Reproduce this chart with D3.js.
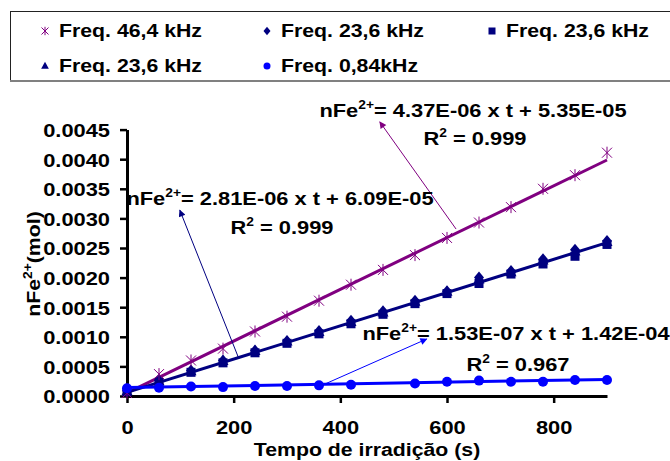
<!DOCTYPE html>
<html>
<head>
<meta charset="utf-8">
<script src="https://cdn.jsdelivr.net/npm/d3@7"></script>
<style>
  body { margin: 0; background: #fff; }
  text { font-family: Arial, "Liberation Sans", sans-serif; font-weight: bold; fill: #000; }
</style>
</head>
<body>
<div id="chart"></div>
<script>
// data
const times = [0, 60, 120, 180, 240, 300, 360, 420, 480, 540, 600, 660, 720, 780, 840, 900];
const freq464 = [0.00005, 0.00037, 0.00060, 0.00080, 0.00109, 0.00134, 0.00161, 0.00188, 0.00213, 0.00238, 0.00267, 0.00293, 0.00319, 0.00350, 0.00373, 0.00411];
const freq236Diamond = [0.00009, 0.00026, 0.00043, 0.00060, 0.00077, 0.00093, 0.00110, 0.00127, 0.00143, 0.00161, 0.00177, 0.00200, 0.00211, 0.00231, 0.00247, 0.00262];
const freq236Square = [0.00007, 0.00023, 0.00040, 0.00056, 0.00073, 0.00089, 0.00105, 0.00122, 0.00138, 0.00156, 0.00173, 0.00190, 0.00206, 0.00223, 0.00236, 0.00256];
const freq236Triangle = [0.00008, 0.00025, 0.00042, 0.00059, 0.00076, 0.00092, 0.00108, 0.00125, 0.00141, 0.00159, 0.00176, 0.00197, 0.00209, 0.00229, 0.00244, 0.00260];
const times084 = [0, 60, 120, 180, 240, 300, 360, 420, 540, 600, 660, 720, 780, 840, 900];
const freq084 = [0.00013, 0.00014, 0.00016, 0.00015, 0.00017, 0.00017, 0.00018, 0.00019, 0.00021, 0.00024, 0.00026, 0.00024, 0.00024, 0.00027, 0.00027];

const legendLabels = ['Freq. 46,4 kHz', 'Freq. 23,6 kHz', 'Freq. 23,6 kHz', 'Freq. 23,6 kHz', 'Freq. 0,84kHz'];

// linear fits shown on the chart
const slopes = [4.37e-6, 2.81e-6, 1.53e-7];
const intercepts = [5.35e-5, 6.09e-5, 1.42e-4];
const eqLabels = ['= 4.37E-06 x t + 5.35E-05', '= 2.81E-06 x t + 6.09E-05', '= 1.53E-07 x t + 1.42E-04'];
const r2Labels = ['0.999', '0.999', '0.967'];

const xTicks = [0, 200, 400, 600, 800];
const yTicks = [0, 0.0005, 0.0010, 0.0015, 0.0020, 0.0025, 0.0030, 0.0035, 0.0040, 0.0045];

// ---- drawing ----
const W = 670, H = 461;
const SX = 1.15; // text in the picture is a bit wide
const purple = '#800080', navy = '#000080', blue = '#0000ff';

const svg = d3.select('#chart').append('svg')
  .attr('width', W).attr('height', H);

const x = d3.scaleLinear().domain([0, 900]).range([127, 607]);
const y = d3.scaleLinear().domain([0, 0.0045]).range([396, 129.6]);

function place(sel, px, py) {
  return sel.attr('transform', `translate(${px},${py}) scale(${SX},1)`);
}

// arrow heads
const defs = svg.append('defs');
[['arr-purple', purple], ['arr-navy', navy], ['arr-blue', blue]].forEach(([id, c]) => {
  defs.append('marker')
    .attr('id', id)
    .attr('viewBox', '0 0 10 10')
    .attr('refX', 9).attr('refY', 5)
    .attr('markerWidth', 9).attr('markerHeight', 7)
    .attr('markerUnits', 'userSpaceOnUse')
    .attr('orient', 'auto')
    .append('path').attr('d', 'M0,0L10,5L0,10z').attr('fill', c);
});

// legend
const legend = svg.append('g');
legend.append('rect')
  .attr('x', 10.5).attr('y', 11.5).attr('width', 680).attr('height', 69)
  .attr('fill', 'none').attr('stroke', '#222').attr('stroke-width', 1);
legend.append('line')
  .attr('x1', 10).attr('x2', 670).attr('y1', 81).attr('y2', 81)
  .attr('stroke', '#808080').attr('stroke-width', 2);

// marker shapes
function asterisk(r) {
  return `M${-r},${-r}L${r},${r}M${-r},${r}L${r},${-r}M0,${-r * 1.2}L0,${r * 1.2}`;
}
const shapes = [
  { kind: 'star', color: purple },
  { kind: 'diamond', color: navy },
  { kind: 'square', color: navy },
  { kind: 'triangle', color: navy },
  { kind: 'circle', color: blue }
];
function drawMarker(g, kind, color, cx, cy, s) {
  if (kind === 'star') {
    g.append('path').attr('d', asterisk(s)).attr('transform', `translate(${cx},${cy})`)
      .attr('stroke', color).attr('stroke-width', 1).attr('fill', 'none');
  } else if (kind === 'circle') {
    g.append('circle').attr('cx', cx).attr('cy', cy).attr('r', s).attr('fill', color);
  } else if (kind === 'square') {
    g.append('rect').attr('x', cx - s).attr('y', cy - s).attr('width', 2 * s).attr('height', 2 * s).attr('fill', color);
  } else if (kind === 'diamond') {
    g.append('path').attr('d', `M0,${-s * 1.2}L${s},0L0,${s * 1.2}L${-s},0Z`)
      .attr('transform', `translate(${cx},${cy})`).attr('fill', color);
  } else {
    g.append('path').attr('d', `M0,${-s * 1.2}L${s * 1.1},${s * 0.8}L${-s * 1.1},${s * 0.8}Z`)
      .attr('transform', `translate(${cx},${cy})`).attr('fill', color);
  }
}

const legendPos = [[45, 37], [267, 37], [492, 37], [45, 72], [267, 72]];
legendLabels.forEach((lab, i) => {
  const [lx, ly] = legendPos[i];
  const sh = shapes[i];
  drawMarker(legend, sh.kind, sh.color, lx, ly - 6, 3.5);
  place(legend.append('text'), lx + 14, ly)
    .attr('font-size', 18.5).text(lab);
});

// axes
const xAxis = svg.append('g')
  .attr('transform', 'translate(0,396)')
  .call(d3.axisBottom(x).tickValues(xTicks).tickSize(7).tickSizeOuter(0));
xAxis.select('.domain').attr('stroke-width', 3).attr('stroke', '#000');
xAxis.selectAll('.tick line').attr('stroke-width', 2.5).attr('stroke', '#000');
xAxis.selectAll('.tick text')
  .attr('y', 38.5).attr('dy', null).attr('x', 0)
  .attr('font-size', 19).attr('fill', '#000')
  .attr('font-family', 'Arial, "Liberation Sans", sans-serif').attr('font-weight', 'bold')
  .attr('transform', `scale(${SX},1)`);

const yAxis = svg.append('g')
  .attr('transform', 'translate(127,0)')
  .call(d3.axisLeft(y).tickValues(yTicks).tickSize(7).tickSizeOuter(0).tickFormat(d3.format('.4f')));
yAxis.select('.domain').attr('stroke-width', 3).attr('stroke', '#000');
yAxis.selectAll('.tick line').attr('stroke-width', 2.5).attr('stroke', '#000');
yAxis.selectAll('.tick text')
  .attr('x', -17 / SX).attr('dy', '0.36em')
  .attr('font-size', 19).attr('fill', '#000')
  .attr('font-family', 'Arial, "Liberation Sans", sans-serif').attr('font-weight', 'bold')
  .attr('transform', `scale(${SX},1)`);

// axis titles
place(svg.append('text'), 367, 455.5)
  .attr('text-anchor', 'middle').attr('font-size', 18.5)
  .text('Tempo de irradição (s)');

const yTitle = svg.append('text')
  .attr('transform', `translate(40,264) rotate(-90) scale(${SX},1)`)
  .attr('text-anchor', 'middle').attr('font-size', 18.5);
yTitle.append('tspan').text('nFe');
yTitle.append('tspan').attr('font-size', 12).attr('dy', -8).text('2+');
yTitle.append('tspan').attr('dy', 8).text('(mol)');

// trend lines
const plot = svg.append('g');
const fitColors = [purple, navy, blue];
const line = d3.line().x(d => x(d[0])).y(d => y(d[1]));
slopes.forEach((m, i) => {
  const ends = [0, 900].map(t => [t, m * t + intercepts[i]]);
  plot.append('path').datum(ends).attr('d', line)
    .attr('stroke', fitColors[i]).attr('stroke-width', 3).attr('fill', 'none');
});

// points
const seriesList = [
  { t: times, v: freq236Square, sh: shapes[2], s: 4.5 },
  { t: times, v: freq236Triangle, sh: shapes[3], s: 5 },
  { t: times, v: freq236Diamond, sh: shapes[1], s: 5 },
  { t: times, v: freq464, sh: shapes[0], s: 5 },
  { t: times084, v: freq084, sh: shapes[4], s: 5 }
];
seriesList.forEach(sr => {
  sr.t.forEach((t, j) => drawMarker(plot, sr.sh.kind, sr.sh.color, x(t), y(sr.v[j]), sr.s));
});

// annotations: arrow tail (on the line) and head in data units, text in pixels
const arrows = [
  { from: [617, 0.00282], to: [474, 0.00463], id: 'arr-purple', color: purple },
  { from: [210, 0.000625], to: [99, 0.00314], id: 'arr-navy', color: navy },
  { from: [367, 0.000186], to: [562, 0.000963], id: 'arr-blue', color: blue }
];
const labelPos = [[473, 117, 145], [280, 205, 234], [516, 340, 371]];

arrows.forEach((a, i) => {
  svg.append('line')
    .attr('x1', x(a.from[0])).attr('y1', y(a.from[1]))
    .attr('x2', x(a.to[0])).attr('y2', y(a.to[1]))
    .attr('stroke', a.color).attr('stroke-width', 1)
    .attr('marker-end', `url(#${a.id})`);

  const [cx, y1, y2] = labelPos[i];
  const t1 = place(svg.append('text'), cx, y1)
    .attr('text-anchor', 'middle').attr('font-size', 19);
  t1.append('tspan').text('nFe');
  t1.append('tspan').attr('font-size', 12).attr('dy', -8).text('2+');
  t1.append('tspan').attr('dy', 8).text(eqLabels[i]);

  const t2 = place(svg.append('text'), cx + 2, y2)
    .attr('text-anchor', 'middle').attr('font-size', 19);
  t2.append('tspan').text('R');
  t2.append('tspan').attr('font-size', 12).attr('dy', -8).text('2');
  t2.append('tspan').attr('dy', 8).text(' = ' + r2Labels[i]);
});
</script>
</body>
</html>
